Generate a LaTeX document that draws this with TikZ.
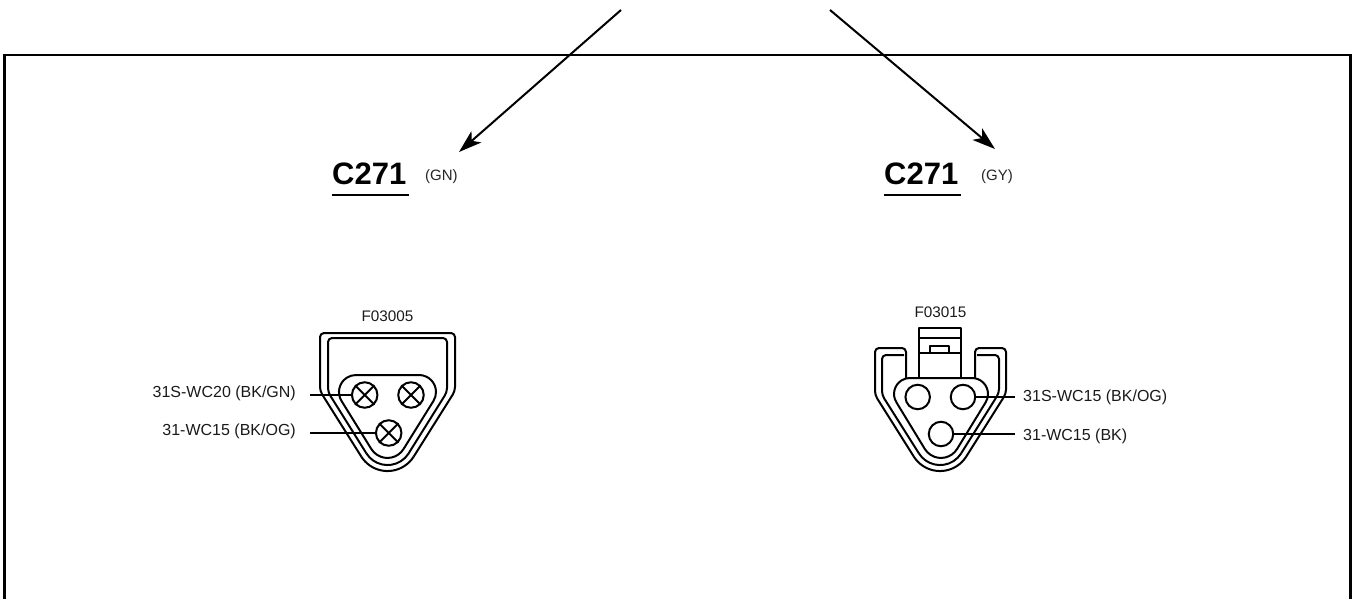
\documentclass[tikz,border=0pt]{standalone}
\usepackage{fontspec}
\setmainfont{Liberation Sans}
\usetikzlibrary{arrows.meta}
\tikzset{
 every picture/.style={x=1pt,y=-1pt},
 ln/.style={line width=2pt,line join=round},
 thin1/.style={line width=1.2pt},
 lab/.style={font=\fontsize{16}{18}\selectfont,inner sep=0pt,text=black!90},
 code/.style={font=\fontsize{15.3}{18}\selectfont,inner sep=0pt,text=black!90},
 title/.style={font=\fontsize{31}{34}\selectfont\bfseries,inner sep=0pt},
 tag/.style={font=\fontsize{15}{17}\selectfont,inner sep=0pt,text=black!85},
 pin/.style={circle,draw,line width=2pt,minimum size=25.5pt,inner sep=0pt},
 arr/.style={line width=2pt,-{Stealth[length=23pt,width=15pt,inset=6pt]}},
}
\begin{document}
\begin{tikzpicture}
\useasboundingbox (0,0) rectangle (1356,599);
% frame
\draw[line width=2.2pt] (4.5,599) -- (4.5,55) -- (1350.5,55) -- (1350.5,599);
% arrows
\coordinate (a1) at (621,10); \coordinate (h1) at (459,152);
\coordinate (a2) at (830,10); \coordinate (h2) at (995,149);
\draw[arr] (a1) -- (h1);
\draw[arr] (a2) -- (h2);
% titles
\node[title,anchor=west] (t1) at (332,174) {C271};
\node[title,anchor=west] (t2) at (884,174) {C271};
\draw[thin1] (332,195) -- (409,195);
\draw[thin1] (884,195) -- (961,195);
\node[tag,anchor=west] (g1) at (425,176.5) {(GN)};
\node[tag,anchor=west] (g2) at (981,176.5) {(GY)};
% left connector
\node[code] (f1) at (387.5,316.5) {F03005};
\draw[ln,rounded corners=4pt] (413.7,456.6) -- (455,391) -- (455,333) -- (320,333) -- (320,391) -- (361.3,456.6);
\draw[ln] (361.3,456.6) arc[start angle=147.7,end angle=32.3,radius=31];
\draw[ln,rounded corners=4pt] (408.6,453.4) -- (447,392) -- (447,338) -- (328,338) -- (328,392) -- (366.4,453.4);
\draw[ln] (366.4,453.4) arc[start angle=147.7,end angle=32.3,radius=25];
\draw[ln] (356,375) -- (419,375) arc[start angle=-90,end angle=32.3,radius=17] -- (403.5,449.1)
  arc[start angle=32.3,end angle=147.7,radius=19] -- (341.6,401.1) arc[start angle=147.7,end angle=270,radius=17] -- cycle;
\node[pin,fill=white] (p1) at (364.7,395) {};
\node[pin,fill=white] (p2) at (411,395) {};
\node[pin,fill=white] (p3) at (388.7,433) {};
\foreach \n in {p1,p2,p3}{
  \draw[ln] (\n.45) -- (\n.225);
  \draw[ln] (\n.135) -- (\n.315);
}
\node[lab,anchor=east] (l1) at (296,393.5) {31S-WC20 (BK/GN)};
\node[lab,anchor=east] (l2) at (296,431.5) {31-WC15 (BK/OG)};
\coordinate (e1) at (310,395);
\coordinate (e2) at (310,433);
\draw[thin1] (e1) -- (p1.west);
\draw[thin1] (e2) -- (p3.west);
% right connector
\node[code] (f2) at (940.5,312.5) {F03015};
\draw[ln,rounded corners=4pt] (906,378) -- (906,348) -- (875,348) -- (875,395) -- (913.8,456.6);
\draw[ln] (913.8,456.6) arc[start angle=147.7,end angle=32.3,radius=31];
\draw[ln,rounded corners=4pt] (966.2,456.6) -- (1006,393.6) -- (1006,348) -- (975,348) -- (975,378);
\draw[ln,rounded corners=4pt] (904,355) -- (882,355) -- (882,395) -- (918.9,453.4);
\draw[ln] (918.9,453.4) arc[start angle=147.7,end angle=32.3,radius=25];
\draw[ln,rounded corners=4pt] (961.1,453.4) -- (999,393) -- (999,355) -- (977,355);
\draw[ln] (910,378) -- (972,378) arc[start angle=-90,end angle=32.3,radius=16] -- (957,449.1)
  arc[start angle=32.3,end angle=147.7,radius=19] -- (896.5,402.5) arc[start angle=147.7,end angle=270,radius=16] -- cycle;
\draw[ln] (919,378) -- (919,328) -- (961,328) -- (961,378);
\draw[ln] (919,338) -- (961,338);
\draw[ln] (919,353) -- (961,353);
\draw[ln] (930,353) -- (930,346) -- (949,346) -- (949,353);
\node[pin,minimum size=24.5pt] (q1) at (917.7,397) {};
\node[pin,minimum size=24.5pt] (q2) at (963,397) {};
\node[pin,minimum size=24.5pt] (q3) at (941,434) {};
\node[lab,anchor=west] (r1) at (1023,397.5) {31S-WC15 (BK/OG)};
\node[lab,anchor=west] (r2) at (1023,436) {31-WC15 (BK)};
\coordinate (e3) at (1015,397);
\coordinate (e4) at (1015,436);
\draw[thin1] (q2.east) -- (e3);
\draw[thin1] (q3.east) -- (q3.east -| e4);
\end{tikzpicture}
\end{document}
